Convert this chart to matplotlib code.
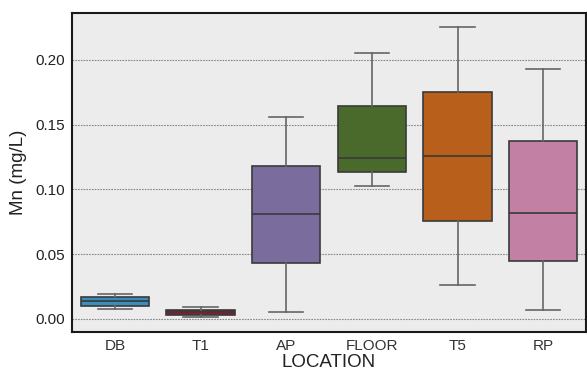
import matplotlib
matplotlib.use("Agg")
import matplotlib.pyplot as plt

plt.rcParams['font.family'] = ['Liberation Sans', 'DejaVu Sans']

locations = ["DB", "T1", "AP", "FLOOR", "T5", "RP"]
whislo = [0.0075, 0.0015, 0.0056, 0.1023, 0.0263, 0.0067]
q1 = [0.0103, 0.0031, 0.0435, 0.1131, 0.0760, 0.0446]
med = [0.0137, 0.0050, 0.0811, 0.1244, 0.1260, 0.0822]
q3 = [0.0170, 0.0072, 0.1185, 0.1646, 0.1754, 0.1378]
whishi = [0.0196, 0.0093, 0.1560, 0.2056, 0.2254, 0.1934]
colors = ["#3b8dbd", "#8a1c30", "#7b6c9e", "#4a6a2c", "#b85f1c", "#c280a4"]

stats = []
for i, name in enumerate(locations):
    stats.append(dict(label=name, whislo=whislo[i], q1=q1[i], med=med[i],
                      q3=q3[i], whishi=whishi[i], fliers=[]))

fig = plt.figure(figsize=(5.87, 3.81), dpi=100)
ax = fig.add_axes([0.1227, 0.1286, 0.8756, 0.8373])
ax.set_facecolor("#ececec")
fig.patch.set_facecolor("white")

bp = ax.bxp(stats, positions=range(len(locations)), widths=0.8,
            patch_artist=True, showfliers=False,
            boxprops=dict(edgecolor="#3a3a3a", linewidth=1.2),
            medianprops=dict(color="#3a3a3a", linewidth=1.2),
            whiskerprops=dict(color="#666666", linewidth=1.2),
            capprops=dict(color="#666666", linewidth=1.2), capwidths=0.4)
for patch, c in zip(bp["boxes"], colors):
    patch.set_facecolor(c)

ax.set_xlim(-0.5, len(locations) - 0.5)
ax.set_ylim(-0.0101, 0.2363)
ax.set_yticks([0.0, 0.05, 0.10, 0.15, 0.20])
ax.set_yticklabels(["0.00", "0.05", "0.10", "0.15", "0.20"])
ax.yaxis.grid(True, linestyle=(0, (1.5, 1)), color="#888888", linewidth=0.8)
ax.set_axisbelow(True)
ax.tick_params(axis="both", labelsize=11, length=0, colors="#333333", pad=5)
ax.tick_params(axis="y", labelcolor="#222222")
ax.set_xlabel("LOCATION", fontsize=13.5, color="#222222", labelpad=1)
ax.set_ylabel("Mn (mg/L)", fontsize=13.5, color="#222222", labelpad=6)
for s in ax.spines.values():
    s.set_color("#1a1a1a")
    s.set_linewidth(1.5)

fig.savefig("out.png", dpi=100)
